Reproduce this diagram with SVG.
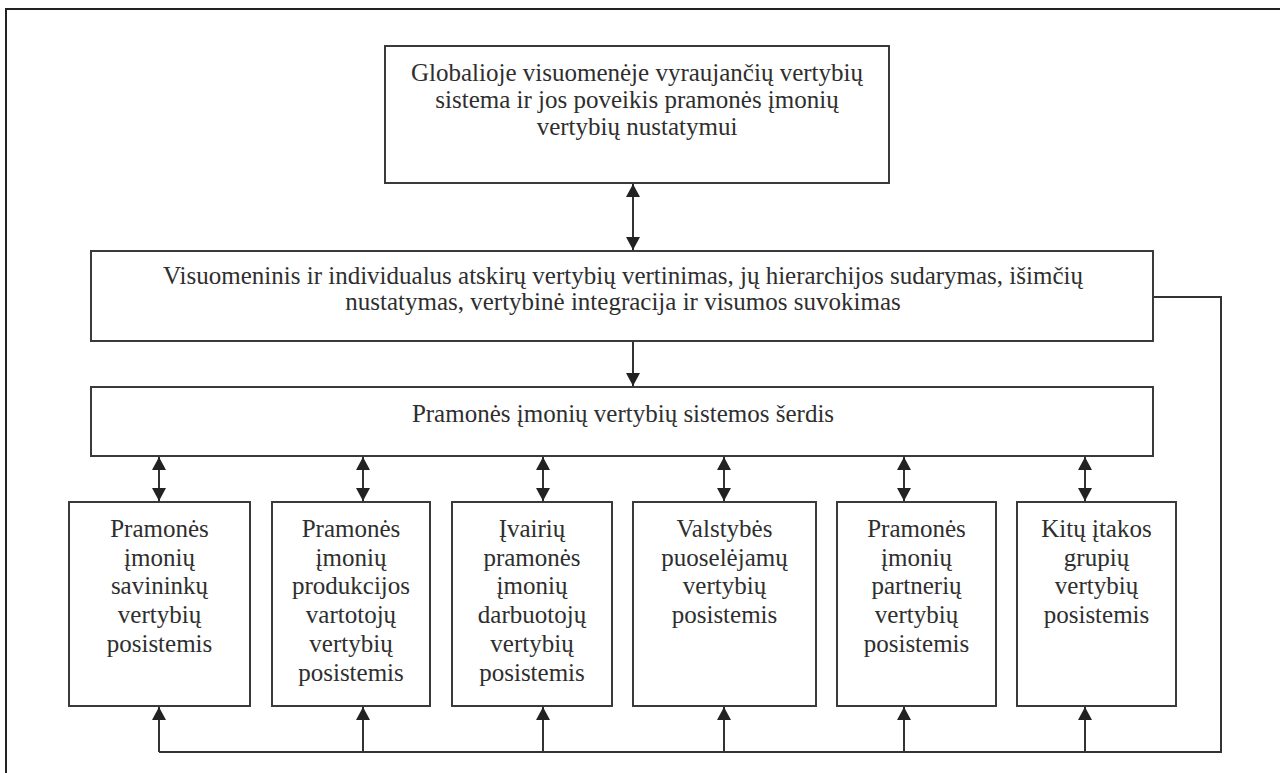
<svg xmlns="http://www.w3.org/2000/svg" width="1280" height="773" viewBox="0 0 1280 773">
<style>
.box{fill:#fff;stroke:#3a3a3a;stroke-width:2}
.t{font-family:"Liberation Serif","Times New Roman",serif;font-size:25px;fill:#2e2e2e;text-anchor:middle}
.c{fill:none;stroke:#333;stroke-width:2}
.frame{fill:none;stroke:#222;stroke-width:2}
</style>
<defs>
<marker id="ah" viewBox="0 0 13 14" markerWidth="13" markerHeight="14" refX="13" refY="7" orient="auto-start-reverse" markerUnits="userSpaceOnUse">
<path d="M0,0 L13,7 L0,14 z" fill="#222"/>
</marker>
</defs>
<rect width="1280" height="773" fill="#fff"/>
<g id="frame">
<path class="frame" d="M6,773 V9 H1280"/>
</g>
<g id="n-global">
<rect class="box" x="385" y="46" width="504" height="137"/>
<text class="t" x="637"><tspan x="637" y="81">Globalioje visuomenėje vyraujančių vertybių</tspan><tspan x="637" y="108">sistema ir jos poveikis pramonės įmonių</tspan><tspan x="637" y="135">vertybių nustatymui</tspan></text>
</g>
<g id="n-vertinimas">
<rect class="box" x="91" y="251" width="1062" height="90"/>
<text class="t" x="623"><tspan x="623" y="284">Visuomeninis ir individualus atskirų vertybių vertinimas, jų hierarchijos sudarymas, išimčių</tspan><tspan x="623" y="310">nustatymas, vertybinė integracija ir visumos suvokimas</tspan></text>
</g>
<g id="n-serdis">
<rect class="box" x="91" y="387" width="1062" height="69"/>
<text class="t" x="623" y="422">Pramonės įmonių vertybių sistemos šerdis</text>
</g>
<g id="n-savininku">
<rect class="box" x="69" y="502" width="181" height="204"/>
<text class="t"><tspan x="159.5" y="537">Pramonės</tspan><tspan x="159.5" y="566">įmonių</tspan><tspan x="159.5" y="594">savininkų</tspan><tspan x="159.5" y="623">vertybių</tspan><tspan x="159.5" y="652">posistemis</tspan></text>
</g>
<g id="n-vartotoju">
<rect class="box" x="272" y="502" width="158" height="204"/>
<text class="t"><tspan x="351" y="537">Pramonės</tspan><tspan x="351" y="566">įmonių</tspan><tspan x="351" y="594">produkcijos</tspan><tspan x="351" y="623">vartotojų</tspan><tspan x="351" y="652">vertybių</tspan><tspan x="351" y="681">posistemis</tspan></text>
</g>
<g id="n-darbuotoju">
<rect class="box" x="452" y="502" width="160" height="204"/>
<text class="t"><tspan x="532" y="537">Įvairių</tspan><tspan x="532" y="566">pramonės</tspan><tspan x="532" y="594">įmonių</tspan><tspan x="532" y="623">darbuotojų</tspan><tspan x="532" y="652">vertybių</tspan><tspan x="532" y="681">posistemis</tspan></text>
</g>
<g id="n-valstybes">
<rect class="box" x="633" y="502" width="183" height="204"/>
<text class="t"><tspan x="724.5" y="537">Valstybės</tspan><tspan x="724.5" y="566">puoselėjamų</tspan><tspan x="724.5" y="594">vertybių</tspan><tspan x="724.5" y="623">posistemis</tspan></text>
</g>
<g id="n-partneriu">
<rect class="box" x="837" y="502" width="159" height="204"/>
<text class="t"><tspan x="916.5" y="537">Pramonės</tspan><tspan x="916.5" y="566">įmonių</tspan><tspan x="916.5" y="594">partnerių</tspan><tspan x="916.5" y="623">vertybių</tspan><tspan x="916.5" y="652">posistemis</tspan></text>
</g>
<g id="n-kitu">
<rect class="box" x="1017" y="502" width="159" height="204"/>
<text class="t"><tspan x="1096.5" y="537">Kitų įtakos</tspan><tspan x="1096.5" y="566">grupių</tspan><tspan x="1096.5" y="594">vertybių</tspan><tspan x="1096.5" y="623">posistemis</tspan></text>
</g>
<g id="connectors">
<line class="c" x1="633" y1="184" x2="633" y2="250" marker-start="url(#ah)" marker-end="url(#ah)"/>
<line class="c" x1="633" y1="342" x2="633" y2="386" marker-end="url(#ah)"/>
<line class="c" x1="159" y1="457" x2="159" y2="501" marker-start="url(#ah)" marker-end="url(#ah)"/>
<line class="c" x1="363" y1="457" x2="363" y2="501" marker-start="url(#ah)" marker-end="url(#ah)"/>
<line class="c" x1="543" y1="457" x2="543" y2="501" marker-start="url(#ah)" marker-end="url(#ah)"/>
<line class="c" x1="724" y1="457" x2="724" y2="501" marker-start="url(#ah)" marker-end="url(#ah)"/>
<line class="c" x1="904" y1="457" x2="904" y2="501" marker-start="url(#ah)" marker-end="url(#ah)"/>
<line class="c" x1="1085" y1="457" x2="1085" y2="501" marker-start="url(#ah)" marker-end="url(#ah)"/>
<path class="c" d="M1154,297 H1221 V752 H159"/>
<line class="c" x1="159" y1="752" x2="159" y2="707" marker-end="url(#ah)"/>
<line class="c" x1="363" y1="752" x2="363" y2="707" marker-end="url(#ah)"/>
<line class="c" x1="543" y1="752" x2="543" y2="707" marker-end="url(#ah)"/>
<line class="c" x1="724" y1="752" x2="724" y2="707" marker-end="url(#ah)"/>
<line class="c" x1="904" y1="752" x2="904" y2="707" marker-end="url(#ah)"/>
<line class="c" x1="1085" y1="752" x2="1085" y2="707" marker-end="url(#ah)"/>
</g>
</svg>
